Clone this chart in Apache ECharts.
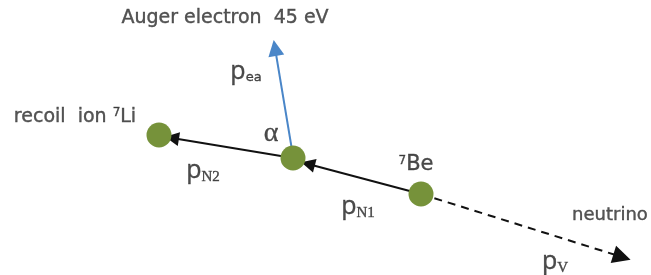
<!DOCTYPE html>
<html><head><meta charset="utf-8">
<script src="https://cdn.jsdelivr.net/npm/echarts@6/dist/echarts.min.js"></script>
<style>html,body{margin:0;padding:0;background:#fff}#c{width:651px;height:275px}</style>
</head><body><div id="c"></div>
<script>
// Particle positions (diagram coordinates)
const particles = [
  { name: 'Li7', x: 159, y: 135 },
  { name: 'alphaVertex', x: 293, y: 158 },
  { name: 'Be7', x: 421, y: 194 }
];
// Momentum arrows [from, to]
const solidArrows = [
  [[421, 194], [308, 164]],
  [[293, 158], [172, 138]]
];
const augerArrow = [[292, 150], [275, 48]];
const neutrinoArrow = [[421, 194], [622, 257]];
// Text labels
const labels = [
  { x: 225, y: 18, text: 'Auger electron  45 eV', style: 'title' },
  { x: 246, y: 72, text: '{p|p}{s|ea}', style: 'mom' },
  { x: 75, y: 117, text: 'recoil  ion {sup|7}Li', style: 'title' },
  { x: 271, y: 134, text: '{a|α}', style: 'mom' },
  { x: 203, y: 171, text: '{p|p}{sn|N2}', style: 'mom' },
  { x: 416, y: 165, text: '{sup|7}{b|Be}', style: 'mom' },
  { x: 358, y: 207, text: '{p|p}{sn|N1}', style: 'mom' },
  { x: 610, y: 215, text: 'neutrino', style: 'small' },
  { x: 555, y: 262, text: '{p|p}{sn|V}', style: 'mom' }
];

const FONT = 'DejaVu Sans';
const INK = '#1e1e1e';
const thick = { textBorderColor: '#333', textBorderWidth: 0.4 };
const rich = {
  p: Object.assign({ fontSize: 25, fontFamily: 'Open Sans', color: INK, lineHeight: 28 }, thick),
  s: Object.assign({ fontSize: 13, fontFamily: FONT, color: INK, padding: [12, 0, 0, 0] }, thick),
  sn: Object.assign({ fontSize: 15, fontFamily: 'Liberation Serif', color: INK, padding: [12, 0, 0, 0] }, thick),
  sup: Object.assign({ fontSize: 12, fontFamily: FONT, color: INK, padding: [0, 0, 9, 0] }, thick),
  a: Object.assign({ fontSize: 28, fontFamily: 'Liberation Serif', color: INK }, thick),
  b: Object.assign({ fontSize: 21, fontFamily: FONT, color: INK }, thick)
};

const chart = echarts.init(document.getElementById('c'));
chart.setOption({
  animation: false,
  grid: { left: 0, right: 0, top: 0, bottom: 0 },
  xAxis: { type: 'value', min: 0, max: 651, show: false },
  yAxis: { type: 'value', min: 0, max: 275, inverse: true, show: false },
  series: [
    {
      type: 'lines', coordinateSystem: 'cartesian2d', z: 2,
      symbol: ['none', 'triangle'], symbolSize: [10, 14],
      lineStyle: { color: '#111', width: 2, opacity: 1 },
      data: solidArrows.map(c => ({ coords: c }))
    },
    {
      type: 'lines', coordinateSystem: 'cartesian2d', z: 2,
      symbol: ['none', 'triangle'], symbolSize: [10, 18],
      lineStyle: { color: '#111', width: 2, type: [8, 6], opacity: 1 },
      data: [{ coords: neutrinoArrow }]
    },
    {
      type: 'lines', coordinateSystem: 'cartesian2d', z: 1,
      symbol: ['none', 'triangle'], symbolSize: [9, 16],
      lineStyle: { color: '#4a86c8', width: 2, opacity: 1 },
      data: [{ coords: augerArrow }]
    },
    {
      type: 'scatter', z: 5, symbolSize: 25,
      itemStyle: { color: '#76923a', opacity: 1 },
      data: particles.map(p => [p.x, p.y])
    },
    {
      type: 'scatter', z: 6, symbolSize: 2, silent: true,
      itemStyle: { color: 'rgba(0,0,0,0)' },
      data: labels.map(l => ({
        value: [l.x, l.y],
        label: Object.assign({
          show: true, position: 'inside', align: 'center', verticalAlign: 'middle',
          formatter: l.text,
          fontFamily: FONT,
          fontSize: l.style === 'small' ? 18 : 19,
          color: '#2a2a2a',
          rich: rich
        }, thick)
      }))
    }
  ]
});
</script></body></html>
